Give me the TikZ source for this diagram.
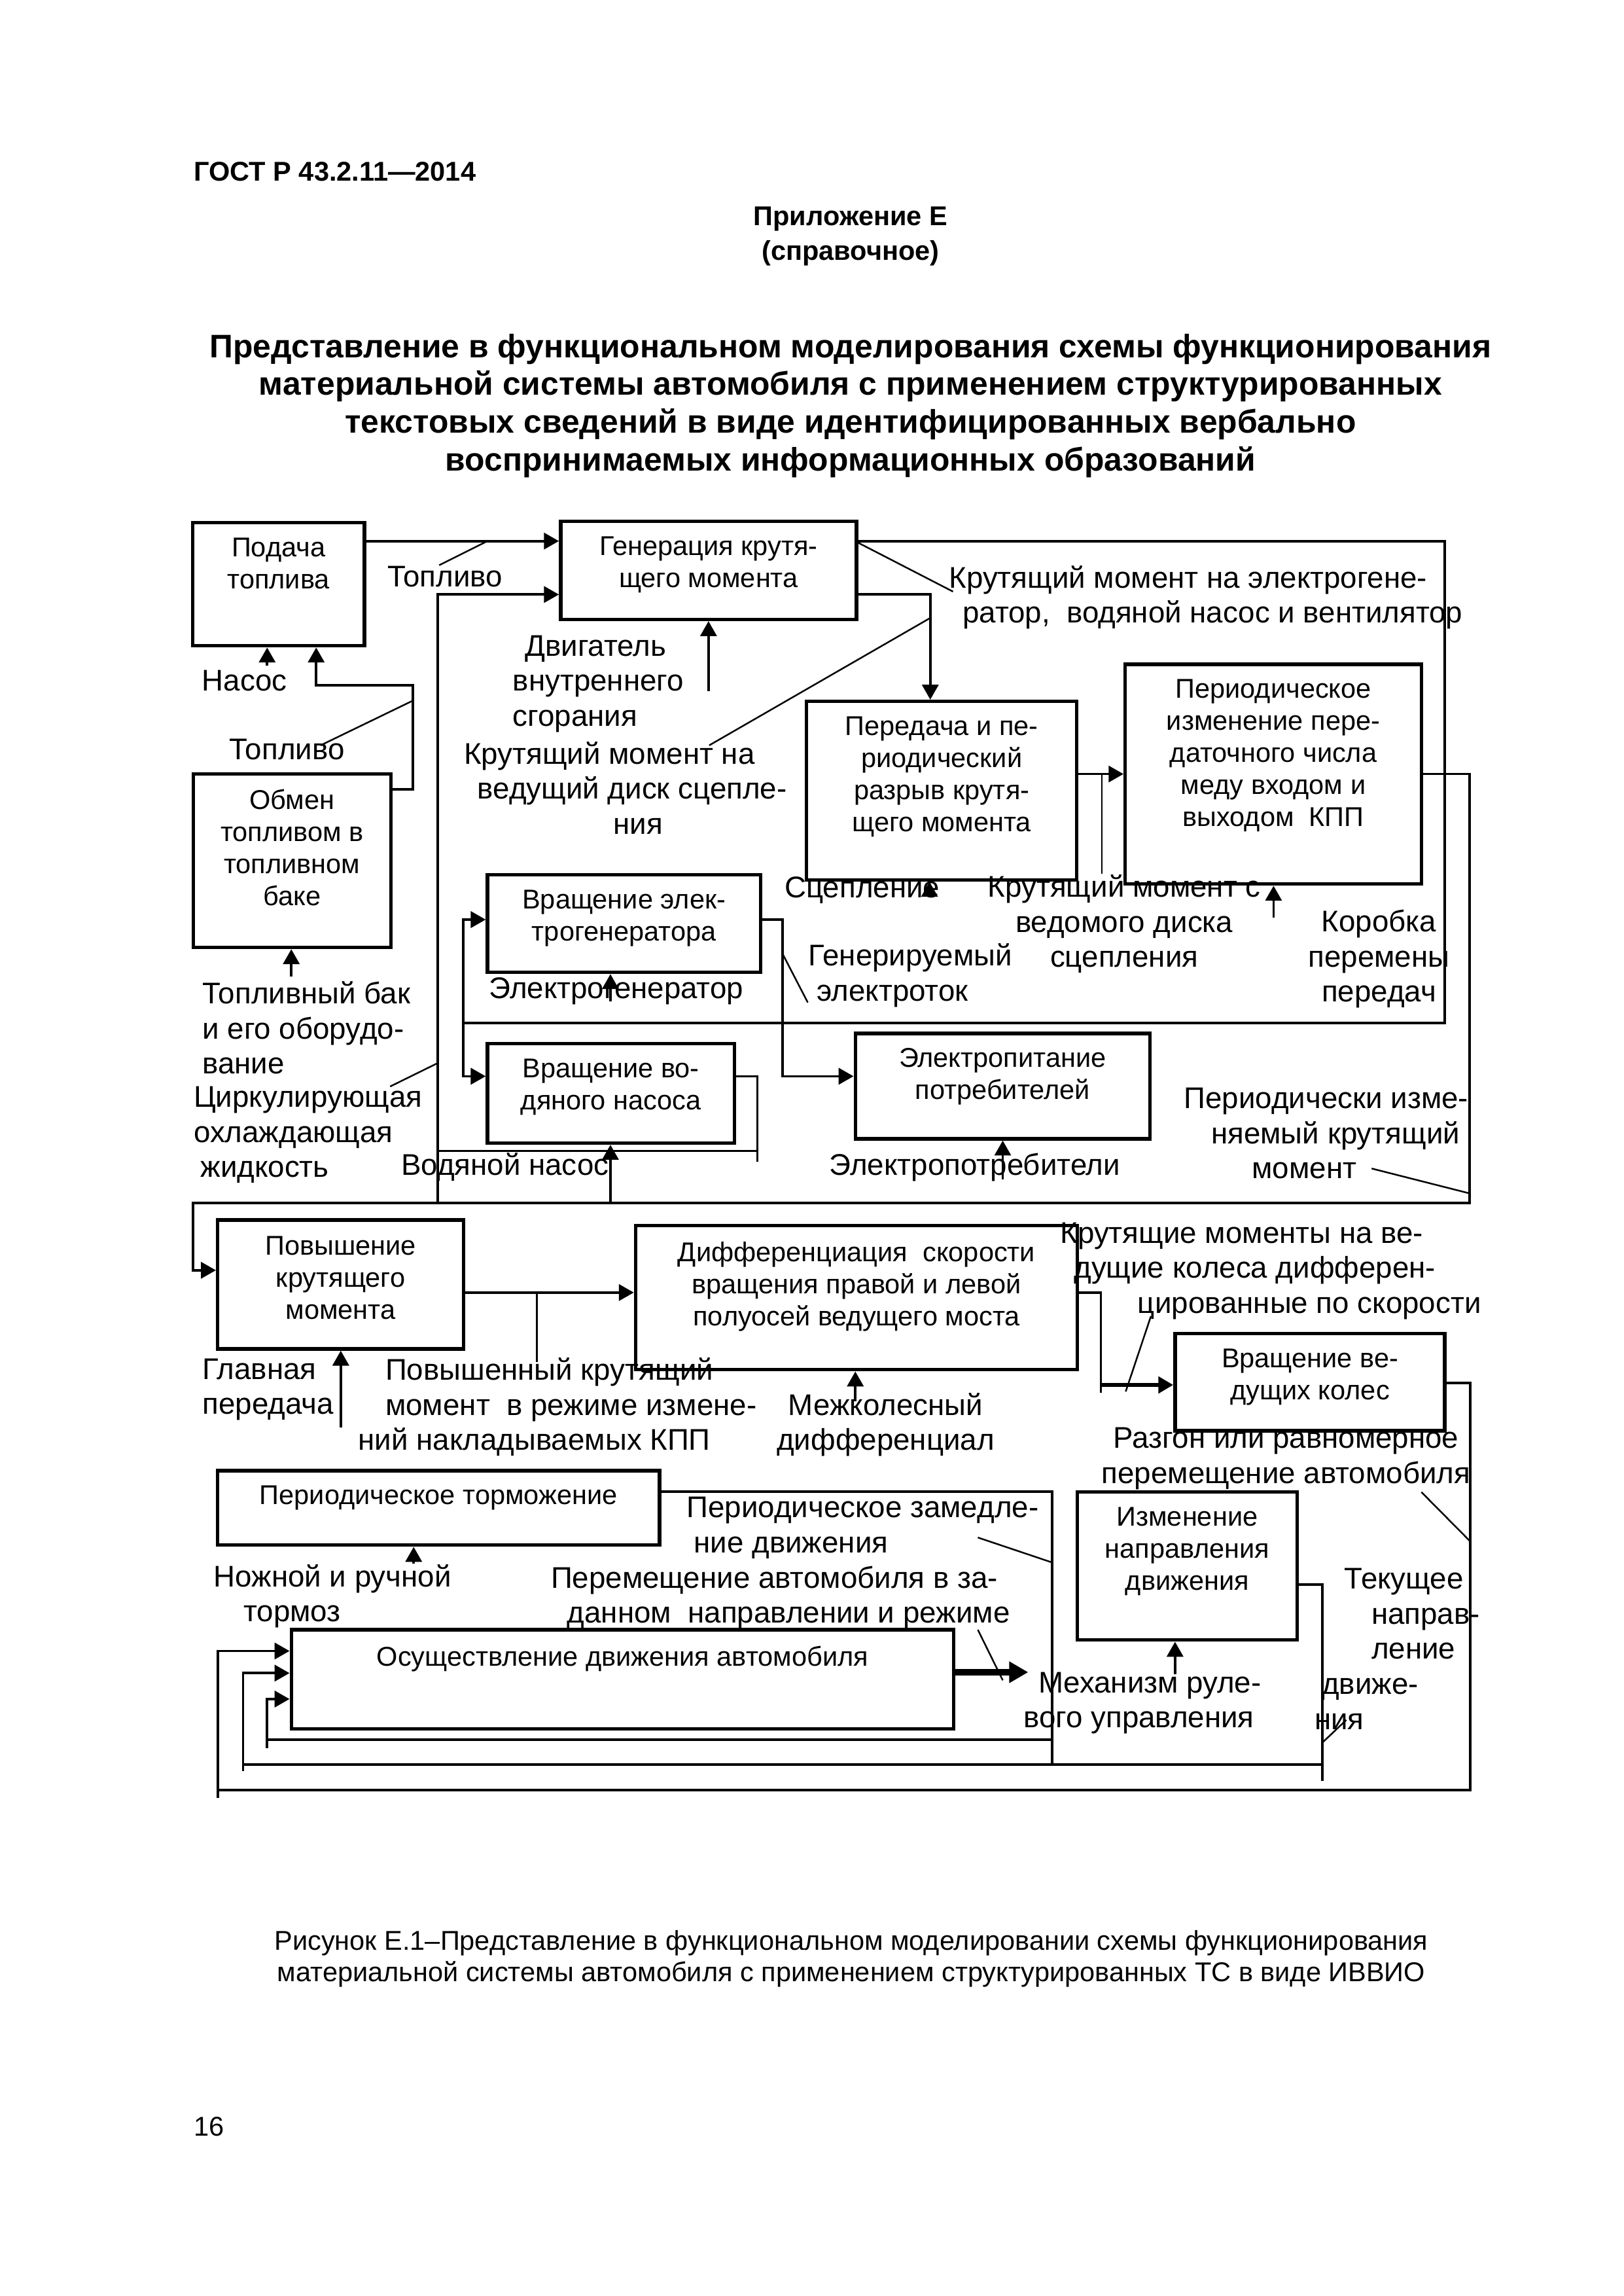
\documentclass[tikz,border=0pt]{standalone}
\usepackage{fontspec}
\setmainfont{Liberation Sans}
\usepackage{tikz}
\usetikzlibrary{arrows.meta, fit, positioning}
\tikzset{
    blok/.style={draw, line width=1.3pt, inner sep=0pt},
    btext/.style={anchor=north, align=center, inner sep=0pt, font=\fontsize{10}{11.8}\selectfont},
    lbl/.style={align=center, inner sep=0pt, font=\fontsize{11}{12.9}\selectfont},
    lbll/.style={lbl, align=left, anchor=west},
    potok/.style={line width=0.9pt, -{Triangle[length=5.5pt, width=6pt]}},
    liniya/.style={line width=0.9pt},
    vynoska/.style={line width=0.6pt},
    tolst/.style={line width=2.5pt, -{Triangle[length=7pt, width=7.5pt]}}
}

\begin{document}
\begin{tikzpicture}[x=0.018936cm, y=-0.018936cm]
    \path[use as bounding box, fill=white] (0,0) rectangle (1109,1568);

    % page head
    \node (gost) [anchor=west, inner sep=0pt, font=\bfseries\fontsize{10}{12}\selectfont] at (132.2,117) {ГОСТ Р 43.2.11—2014};
    \node (prilozh) [align=center, inner sep=0pt, font=\bfseries\fontsize{10}{12.7}\selectfont] at (581,161.5) {Приложение Е\\(справочное)};
    \node (zagl) [align=center, inner sep=0pt, font=\bfseries\fontsize{12}{13.9}\selectfont] at (581,277) {Представление в функциональном моделирования схемы функционирования\\материальной системы автомобиля с применением структурированных\\текстовых сведений в виде идентифицированных вербально\\воспринимаемых информационных образований};

    % boxes
    \node (podacha) [blok, fit={(131.5,357) (249,441)}] {};
    \node (gen) [blok, fit={(383,356) (585,423)}] {};
    \node (obmen) [blok, fit={(132,528.6) (267,647)}] {};
    \node (peredacha) [blok, fit={(551,479) (735.6,601)}] {};
    \node (kpp) [blok, fit={(768.7,453.7) (971,603.7)}] {};
    \node (elgen) [blok, fit={(333,597.5) (519.6,664)}] {};
    \node (vodnas) [blok, fit={(333,712.7) (501.7,780.6)}] {};
    \node (elpit) [blok, fit={(584.3,705.7) (785.5,777.7)}] {};
    \node (povysh) [blok, fit={(148.7,833.2) (316.6,921.2)}] {};
    \node (diff) [blok, fit={(434.2,837) (736,935.4)}] {};
    \node (kolesa) [blok, fit={(802.7,910.8) (987,977.1)}] {};
    \node (tormoz) [blok, fit={(148.7,1004.3) (450.5,1055.2)}] {};
    \node (napr) [blok, fit={(736,1019) (886,1120)}] {};
    \node (dvizh) [blok, fit={(199,1113) (651.5,1180.6)}] {};

    % box texts
    \node (t-podacha) [btext] at ([yshift=-6pt]podacha.north) {Подача\\топлива};
    \node (t-gen) [btext] at ([yshift=-6pt]gen.north) {Генерация крутя-\\щего момента};
    \node (t-obmen) [btext] at ([yshift=-6pt]obmen.north) {Обмен\\топливом в\\топливном\\баке};
    \node (t-peredacha) [btext] at ([yshift=-6pt]peredacha.north) {Передача и пе-\\риодический\\разрыв крутя-\\щего момента};
    \node (t-kpp) [btext] at ([yshift=-6pt]kpp.north) {Периодическое\\изменение пере-\\даточного числа\\меду входом и\\выходом\ \ КПП};
    \node (t-elgen) [btext] at ([yshift=-6pt]elgen.north) {Вращение элек-\\трогенератора};
    \node (t-vodnas) [btext] at ([yshift=-6pt]vodnas.north) {Вращение во-\\дяного насоса};
    \node (t-elpit) [btext] at ([yshift=-6pt]elpit.north) {Электропитание\\потребителей};
    \node (t-povysh) [btext] at ([yshift=-6.5pt]povysh.north) {Повышение\\крутящего\\момента};
    \node (t-diff) [btext] at ([yshift=-6.5pt]diff.north) {Дифференциация\ \ скорости\\вращения правой и левой\\полуосей ведущего моста};
    \node (t-kolesa) [btext] at ([yshift=-6pt]kolesa.north) {Вращение ве-\\дущих колес};
    \node (t-tormoz) [btext] at ([yshift=-6pt]tormoz.north) {Периодическое торможение};
    \node (t-napr) [btext] at ([yshift=-6pt]napr.north) {Изменение\\направления\\движения};
    \node (t-dvizh) [btext] at ([yshift=-6.5pt]dvizh.north) {Осуществление движения автомобиля};

    % labels
    \node (l-toplivo1) [lbl] at (304,394) {Топливо};
    \node (l-nasos) [lbl] at (167,465) {Насос};
    \node (l-toplivo2) [lbl] at (196,512) {Топливо};
    \node (l-dvs) [lbll] at (350,467) {\hspace*{4.5pt}Двигатель\\внутреннего\\сгорания};
    \node (l-krut1) [lbll] at (316.6,538) {Крутящий момент на\\\hspace*{5pt}ведущий диск сцепле-\\\hspace*{55pt}ния};
    \node (l-krut2) [lbll] at (648,408) {Крутящий момент на электрогене-\\\hspace*{5pt}ратор,\ \ водяной насос и вентилятор};
    \node (l-scepl) [lbl] at (589,608) {Сцепление};
    \node (l-krut3) [lbl] at (768,631) {Крутящий момент с\\ведомого диска\\сцепления};
    \node (l-korobka) [lbl] at (942,655) {Коробка\\перемены\\передач};
    \node (l-elgen) [lbl] at (421,677) {Электрогенератор};
    \node (l-tok) [lbll] at (552,666) {Генерируемый\\\hspace*{3pt}электроток};
    \node (l-bak) [lbll] at (138,702) {Топливный бак\\и его оборудо-\\вание};
    \node (l-zhidk) [lbll] at (132,775) {Циркулирующая\\охлаждающая\\\hspace*{2.5pt}жидкость};
    \node (l-vodnas) [lbl] at (345,797) {Водяной насос};
    \node (l-potr) [lbl] at (666,797) {Электропотребители};
    \node (l-perizm) [lbll] at (808.5,774) {Периодически изме-\\\hspace*{10pt}няемый крутящий\\\hspace*{25pt}момент};
    \node (l-kolmom) [lbll] at (724,868) {Крутящие моменты на ве-\\\hspace*{5pt}дущие колеса дифферен-\\\hspace*{28.5pt}цированные по скорости};
    \node (l-glavn) [lbll] at (138,949) {Главная\\передача};
    \node (l-povkr) [lbll] at (244.4,961) {\hspace*{10pt}Повышенный крутящий\\\hspace*{10pt}момент\ \ в режиме измене-\\ний накладываемых КПП};
    \node (l-mezh) [lbl] at (605,973) {Межколесный\\дифференциал};
    \node (l-razgon) [lbl] at (878.5,996) {Разгон или равномерное\\перемещение автомобиля};
    \node (l-zamedl) [lbll] at (468.7,1043.5) {Периодическое замедле-\\\hspace*{2.7pt}ние движения};
    \node (l-tormoz) [lbll] at (145.6,1090) {Ножной и ручной\\\hspace*{11pt}тормоз};
    \node (l-perem) [lbll] at (376,1091) {Перемещение автомобиля в за-\\\hspace*{6pt}данном\ \ направлении и режиме};
    \node (l-tekush) [lbll] at (897.6,1126) {\hspace*{11pt}Текущее\\\hspace*{21pt}направ-\\\hspace*{21pt}ление\\\hspace*{2.7pt}движе-\\ния};
    \node (l-mehan) [lbll] at (699,1163) {\hspace*{5.4pt}Механизм руле-\\вого управления};

    % fuel
    \draw [potok] (podacha.east |- 0,369.5) -- (gen.west |- 0,369.5);
    \draw [vynoska] (300,386) -- (333,369.5);
    \draw [potok] (obmen.east |- 0,539) -| (282,468) -| (podacha.south -| 216,0);
    \draw [vynoska] (219,509) -- (282,478.5);
    \draw [potok] (182.5,454.6) -- (podacha.south -| 182.5,0);
    \draw [potok] (199,667) -- (obmen.south -| 199,0);
    % engine and cooling
    \draw [potok] (484,472) -- (gen.south -| 484,0);
    \draw [potok] (299,821.6) |- (gen.west |- 0,406);
    \draw [liniya] (vodnas.east |- 0,735) -| (517.4,793.3);
    \draw [liniya] (299,786) -- (517.4,786);
    \draw [vynoska] (266.5,742) -- (299,726);
    % engine outputs
    \draw [potok] (gen.east |- 0,406) -| (peredacha.north -| 635.5,0);
    \draw [vynoska] (484.5,509) -- (635.5,422);
    \draw [liniya] (gen.east |- 0,369.5) -| (987,698.5) -- (316.6,698.5);
    \draw [potok] (316.6,698.5) |- (elgen.west |- 0,628);
    \draw [potok] (316.6,698.5) |- (vodnas.west |- 0,735);
    \draw [vynoska] (585,370) -- (651,404);
    % clutch and gearbox
    \draw [potok] (peredacha.east |- 0,528.6) -- (kpp.west |- 0,528.6);
    \draw [vynoska] (752.6,528.6) -- (752.6,596.5);
    \draw [potok] (635,612) -- (peredacha.south -| 635,0);
    \draw [potok] (870,626.6) -- (kpp.south -| 870,0);
    \draw [potok] (kpp.east |- 0,528.6) -| (1004,821.6) -| (132,867.5) -- (povysh.west |- 0,867.5);
    \draw [vynoska] (937,798) -- (1004,815);
    % electric
    \draw [potok] (elgen.east |- 0,628) -| (534.6,735) -- (elpit.west |- 0,735);
    \draw [vynoska] (534.6,651.4) -- (551.8,684.6);
    \draw [potok] (417,684) -- (elgen.south -| 417,0);
    \draw [potok] (417,821.6) -- (vodnas.south -| 417,0);
    \draw [potok] (685,805.5) -- (elpit.south -| 685,0);
    % final drive
    \draw [potok] (povysh.east |- 0,882.7) -- (diff.west |- 0,882.7);
    \draw [vynoska] (366.7,882.7) -- (366.7,930);
    \draw [potok] (232.8,975) -- (povysh.south -| 232.8,0);
    \draw [potok] (584.3,957) -- (diff.south -| 584.3,0);
    \draw [liniya] (diff.east |- 0,882.7) -| (752,951);
    \draw [potok, line width=1.6pt] (752,945.8) -- (kolesa.west |- 0,945.8);
    \draw [vynoska] (769,950.3) -- (786.2,898.9);
    \draw [liniya] (kolesa.east |- 0,944.3) -| (1004.2,1222.6) -- (148.7,1222.6);
    \draw [potok] (148.7,1228) |- (dvizh.west |- 0,1127.5);
    \draw [vynoska] (971,1019) -- (1004.2,1052.5);
    % steering
    \draw [liniya] (napr.east |- 0,1082) -| (903.4,1216);
    \draw [liniya] (166,1205) -- (903.4,1205);
    \draw [potok] (166,1209.6) |- (dvizh.west |- 0,1142.6);
    \draw [vynoska] (903.4,1190) -- (919.7,1174.6);
    \draw [potok] (802.7,1143.5) -- (napr.south -| 802.7,0);
    % braking
    \draw [liniya] (tormoz.east |- 0,1018.7) -| (718.6,1205);
    \draw [liniya] (182.5,1188) -- (718.6,1188);
    \draw [potok] (182.5,1193.8) |- (dvizh.west |- 0,1160.3);
    \draw [vynoska] (668,1050) -- (718.6,1067);
    \draw [potok] (282.6,1067.7) -- (tormoz.south -| 282.6,0);
    % motion output
    \draw [tolst] (dvizh.east |- 0,1142) -- (702.4,1142);
    \draw [vynoska] (668,1113) -- (685,1147.5);

    % caption and page number
    \node (podpis) [align=center, inner sep=0pt, font=\fontsize{10}{11.6}\selectfont] at (581.5,1337.5) {Рисунок Е.1–Представление в функциональном моделировании схемы функционирования\\материальной системы автомобиля с применением структурированных ТС в виде ИВВИО};
    \node (nomer) [inner sep=0pt, font=\fontsize{10}{12}\selectfont] at (142.7,1452.2) {16};
\end{tikzpicture}
\end{document}
